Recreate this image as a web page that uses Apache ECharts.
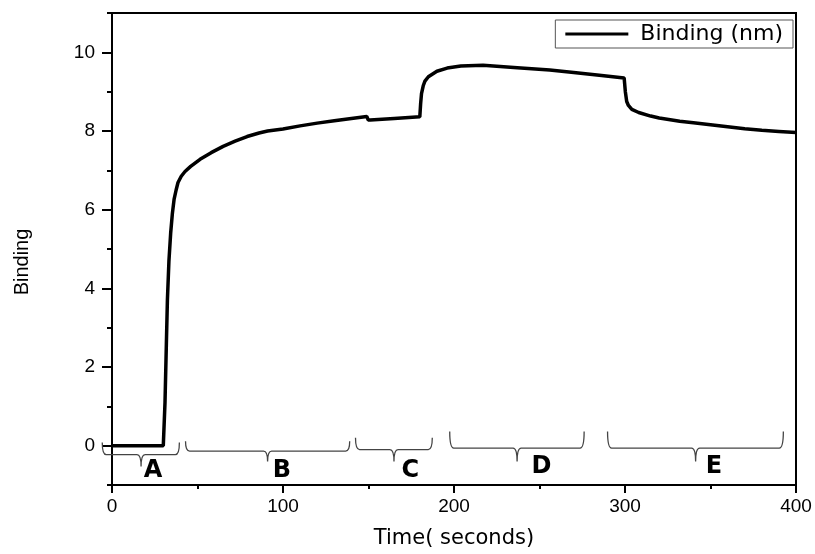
<!DOCTYPE html>
<html>
<head>
<meta charset="utf-8">
<script src="https://cdn.jsdelivr.net/npm/echarts@6/dist/echarts.min.js"></script>
<style>
  html, body { margin: 0; padding: 0; background: #fff; }
  #chartLine { width: 815px; height: 554px; }
</style>
</head>
<body>
<div id="chartLine"></div>
<script>
// time (s) and binding (nm)
const timeSec = [0, 30, 30.4, 31.0, 31.8, 32.4, 33.3, 34.3, 35.3, 36.3,
  37.5, 38.6, 40.5, 42.7, 46, 51.5, 58, 65, 72, 79,
  86, 91, 100, 110, 120, 130, 140, 149, 149.8, 151,
  165, 180, 180.5, 181, 182, 183, 185, 190, 196, 204,
  217, 237, 256, 270, 285, 299.5, 300.2, 301, 302, 304,
  308, 315, 320, 332, 340, 350, 360, 370, 380, 390, 400];
const bindingNm = [0, 0, 0, 1.1, 2.6, 3.7, 4.7, 5.4, 5.9, 6.26,
  6.5, 6.69, 6.85, 6.97, 7.1, 7.28, 7.45, 7.61, 7.74, 7.86,
  7.95, 8.0, 8.05, 8.13, 8.2, 8.26, 8.32, 8.37, 8.28, 8.28,
  8.32, 8.36, 8.7, 8.95, 9.15, 9.27, 9.38, 9.52, 9.6, 9.65,
  9.67, 9.61, 9.55, 9.49, 9.42, 9.35, 9.0, 8.75, 8.65, 8.55,
  8.47, 8.38, 8.33, 8.25, 8.21, 8.16, 8.11, 8.06, 8.02, 7.99, 7.96];

// tick labels
const xTickLabels = [0, 100, 200, 300, 400];
const yTickLabels = [0, 2, 4, 6, 8, 10];
const yMinorTicks = [-1, 1, 3, 5, 7, 9, 11];

// phase braces under the curve (seconds / binding units)
const phaseNames = ['A', 'B', 'C', 'D', 'E'];
const phaseFrom = [-5.7, 43, 142.4, 197.5, 289.8];
const phaseTo = [39.4, 139, 187.3, 276.1, 392.6];
const phaseTip = [17, 91, 164.9, 236.9, 341.3];
const phaseLetterX = [24, 99.4, 174.5, 251.2, 352];
const phaseTop = [0.08, 0.11, 0.2, 0.36, 0.36];
const phaseBar = [-0.23, -0.14, -0.1, -0.06, -0.06];
const phaseTipY = [-0.53, -0.4, -0.4, -0.4, -0.4];
const phaseLetterY = [-0.64, -0.64, -0.64, -0.53, -0.53];

const chartLine = echarts.init(document.getElementById('chartLine'));

function renderBrace(params, api) {
  const i = params.dataIndex;
  const l = api.coord([phaseFrom[i], phaseTop[i]]);
  const r = api.coord([phaseTo[i], phaseTop[i]]);
  const bar = api.coord([phaseTip[i], phaseBar[i]])[1];
  const tip = api.coord([phaseTip[i], phaseTipY[i]]);
  const txt = api.coord([phaseLetterX[i], phaseLetterY[i]]);
  const c = 4;
  const d = 'M' + l[0] + ',' + l[1] +
    ' Q' + l[0] + ',' + bar + ' ' + (l[0] + c) + ',' + bar +
    ' L' + (tip[0] - c) + ',' + bar +
    ' Q' + tip[0] + ',' + bar + ' ' + tip[0] + ',' + tip[1] +
    ' Q' + tip[0] + ',' + bar + ' ' + (tip[0] + c) + ',' + bar +
    ' L' + (r[0] - c) + ',' + bar +
    ' Q' + r[0] + ',' + bar + ' ' + r[0] + ',' + r[1];
  return {
    type: 'group',
    children: [
      {
        type: 'path',
        shape: { pathData: d },
        style: { stroke: '#444', lineWidth: 1.3, fill: null }
      },
      {
        type: 'text',
        x: txt[0],
        y: txt[1],
        style: {
          text: phaseNames[i],
          fontSize: 24,
          fontWeight: 'bold',
          fontFamily: 'DejaVu Sans',
          fill: '#000',
          align: 'center',
          verticalAlign: 'middle'
        }
      }
    ]
  };
}

chartLine.setOption({
  animation: false,
  grid: {
    left: 112,
    right: 19,
    top: 13,
    bottom: 68,
    show: true,
    borderColor: '#000',
    borderWidth: 2
  },
  legend: {
    data: [{ name: 'Binding (nm)', icon: 'rect' }],
    right: 22,
    top: 20,
    itemWidth: 63,
    itemHeight: 3,
    padding: [3, 10, 3, 10],
    borderColor: '#555',
    borderWidth: 1,
    textStyle: {
      fontFamily: 'DejaVu Sans',
      fontSize: 22,
      color: '#000',
      padding: [0, 0, 0, 7]
    }
  },
  xAxis: {
    type: 'value',
    min: 0,
    max: 400,
    interval: 100,
    name: 'Time( seconds)',
    nameLocation: 'middle',
    nameGap: 43,
    nameTextStyle: { fontFamily: 'DejaVu Sans', fontSize: 21, color: '#000' },
    axisLine: { onZero: false, lineStyle: { color: '#000', width: 2 } },
    axisTick: { inside: false, length: 8, lineStyle: { color: '#000', width: 2 } },
    minorTick: { show: true, splitNumber: 2, length: 4, lineStyle: { color: '#000', width: 2 } },
    axisLabel: {
      customValues: xTickLabels,
      margin: 12,
      fontFamily: 'Liberation Sans',
      fontSize: 19,
      color: '#000'
    },
    splitLine: { show: false }
  },
  yAxis: [
    {
      type: 'value',
      min: -1,
      max: 11,
      axisLine: { show: true, onZero: false, lineStyle: { color: '#000', width: 2 } },
      axisTick: { show: true, customValues: yTickLabels, length: 10, lineStyle: { color: '#000', width: 2 } },
      axisLabel: {
        customValues: yTickLabels,
        margin: 17,
        fontFamily: 'Liberation Sans',
        fontSize: 19,
        color: '#000'
      },
      splitLine: { show: false }
    },
    {
      type: 'value',
      min: -1,
      max: 11,
      position: 'left',
      axisLine: { show: false },
      axisTick: { show: true, customValues: yMinorTicks, length: 5, lineStyle: { color: '#000', width: 2 } },
      axisLabel: { show: false },
      splitLine: { show: false }
    }
  ],
  graphic: [
    {
      type: 'text',
      x: 22,
      y: 262,
      rotation: Math.PI / 2,
      style: {
        text: 'Binding',
        fontFamily: 'Liberation Sans',
        fontSize: 20,
        fill: '#000',
        align: 'center',
        verticalAlign: 'middle'
      }
    }
  ],
  series: [
    {
      name: 'Binding (nm)',
      type: 'line',
      showSymbol: false,
      symbol: 'none',
      lineStyle: { color: '#000', width: 3.5 },
      itemStyle: { color: '#000' },
      data: timeSec.map((t, i) => [t, bindingNm[i]])
    },
    {
      name: 'phases',
      type: 'custom',
      clip: false,
      renderItem: renderBrace,
      data: phaseNames.map((n, i) => [phaseTip[i], phaseBar[i]]),
      z: 3
    }
  ]
});
</script>
</body>
</html>
